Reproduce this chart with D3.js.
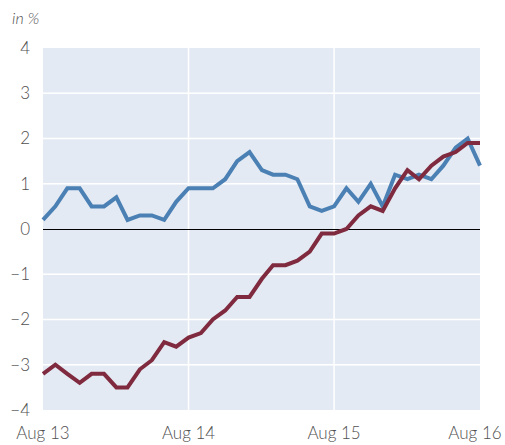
<!DOCTYPE html>
<html lang="en">
<head>
  <meta charset="UTF-8">
  <title>in %</title>
  <script src="https://d3js.org/d3.v7.min.js"></script>
  <style>
    body { margin: 0; background: #fff; font-family: Lato, "Open Sans", sans-serif; }
    svg { display: block; }
  </style>
</head>
<body>
  <svg></svg>
  <script>
    // monthly observations, Aug 2013 to Aug 2016
    const startMonth = new Date(2013, 7, 1);
    const blueSeries = [0.2, 0.5, 0.9, 0.9, 0.5, 0.5, 0.7, 0.2, 0.3, 0.3, 0.2, 0.6,
      0.9, 0.9, 0.9, 1.1, 1.5, 1.7, 1.3, 1.2, 1.2, 1.1, 0.5, 0.4,
      0.5, 0.9, 0.6, 1.0, 0.5, 1.2, 1.1, 1.2, 1.1, 1.4, 1.8, 2.0, 1.4];
    const redSeries = [-3.2, -3.0, -3.2, -3.4, -3.2, -3.2, -3.5, -3.5, -3.1, -2.9, -2.5, -2.6,
      -2.4, -2.3, -2.0, -1.8, -1.5, -1.5, -1.1, -0.8, -0.8, -0.7, -0.5, -0.1,
      -0.1, 0.0, 0.3, 0.5, 0.4, 0.9, 1.3, 1.1, 1.4, 1.6, 1.7, 1.9, 1.9];
    const yTicks = [4, 3, 2, 1, 0, -1, -2, -3, -4];
    const xTickLabels = ["Aug 13", "Aug 14", "Aug 15", "Aug 16"];
    const xTickDates = [new Date(2013, 7, 1), new Date(2014, 7, 1), new Date(2015, 7, 1), new Date(2016, 7, 1)];

    const width = 505, height = 445;
    const margin = { top: 48, right: 25, bottom: 35, left: 43 };

    const svg = d3.select("svg")
      .attr("width", width)
      .attr("height", height);

    const x = d3.scaleTime()
      .domain([xTickDates[0], xTickDates[3]])
      .range([margin.left, width - margin.right]);

    const y = d3.scaleLinear()
      .domain([-4, 4])
      .range([height - margin.bottom, margin.top]);

    const monthDate = i => d3.timeMonth.offset(startMonth, i);

    // panel background
    svg.append("rect")
      .attr("x", x.range()[0])
      .attr("y", y(4))
      .attr("width", x.range()[1] - x.range()[0])
      .attr("height", y(-4) - y(4))
      .attr("fill", "#e4eaf3");

    // horizontal grid
    svg.append("g")
      .selectAll("line")
      .data(yTicks.filter(d => d !== 0 && d !== 4 && d !== -4))
      .join("line")
      .attr("x1", x.range()[0])
      .attr("x2", x.range()[1])
      .attr("y1", d => y(d))
      .attr("y2", d => y(d))
      .attr("stroke", "#fff")
      .attr("stroke-width", 1.5);

    // vertical grid
    svg.append("g")
      .selectAll("line")
      .data(xTickDates.slice(1, 3))
      .join("line")
      .attr("x1", d => x(d))
      .attr("x2", d => x(d))
      .attr("y1", y(4))
      .attr("y2", y(-4))
      .attr("stroke", "#fff")
      .attr("stroke-width", 1.5);

    // zero line
    svg.append("line")
      .attr("x1", x.range()[0])
      .attr("x2", x.range()[1])
      .attr("y1", Math.round(y(0)) + 0.5)
      .attr("y2", Math.round(y(0)) + 0.5)
      .attr("stroke", "#000")
      .attr("stroke-width", 1);

    const line = d3.line()
      .x((d, i) => x(monthDate(i)))
      .y(d => y(d));

    svg.append("path")
      .datum(blueSeries)
      .attr("fill", "none")
      .attr("stroke", "#4b80b4")
      .attr("stroke-width", 4)
      .attr("d", line);

    svg.append("path")
      .datum(redSeries)
      .attr("fill", "none")
      .attr("stroke", "#7f2a3e")
      .attr("stroke-width", 4)
      .attr("d", line);

    // y labels
    svg.append("g")
      .attr("font-size", 17)
      .attr("font-weight", 300)
      .attr("fill", "#505050")
      .attr("text-anchor", "end")
      .selectAll("text")
      .data(yTicks)
      .join("text")
      .attr("x", 30)
      .attr("y", d => y(d))
      .attr("dy", "0.35em")
      .text(d => d < 0 ? "\u2212" + Math.abs(d) : d);

    // x labels
    svg.append("g")
      .attr("font-size", 17)
      .attr("font-weight", 300)
      .attr("fill", "#505050")
      .attr("text-anchor", "middle")
      .selectAll("text")
      .data(xTickLabels)
      .join("text")
      .attr("x", (d, i) => x(xTickDates[i]) - (i === 3 ? 5 : 0))
      .attr("y", 439)
      .text(d => d);

    svg.append("text")
      .attr("x", 12)
      .attr("y", 24)
      .attr("font-size", 16)
      .attr("font-weight", 300)
      .attr("font-style", "italic")
      .attr("fill", "#505050")
      .text("in %");
  </script>
</body>
</html>
